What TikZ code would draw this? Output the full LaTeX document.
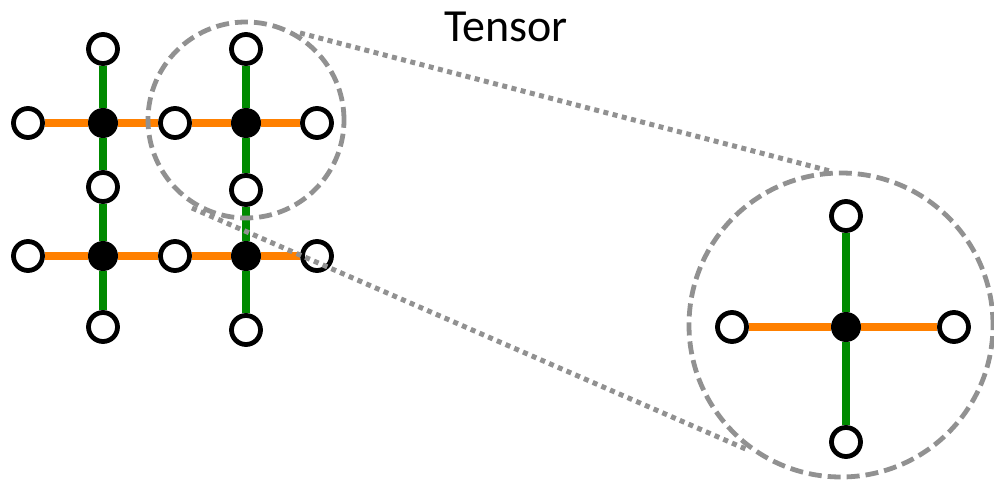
\documentclass[tikz,border=0pt]{standalone}
\usepackage{fontspec}
\setmainfont{Carlito}
\usetikzlibrary{backgrounds}
\definecolor{bondorange}{RGB}{255,128,0}
\definecolor{bondgreen}{RGB}{0,138,0}
\definecolor{lensgray}{RGB}{145,145,145}
\begin{document}
\begin{tikzpicture}[x=1pt,y=-1pt,
  site/.style={circle,fill=black,inner sep=0pt,minimum size=30pt},
  leg/.style={circle,draw=black,fill=white,line width=4.8pt,inner sep=0pt,minimum size=29pt},
  hbond/.style={draw=bondorange,line width=7.5pt},
  vbond/.style={draw=bondgreen,line width=7.5pt},
  lens/.style={circle,draw=lensgray,line width=4.8pt,dash pattern=on 13pt off 6pt,inner sep=0pt},
  ray/.style={draw=lensgray,line width=5pt,dash pattern=on 5pt off 4.5pt}]
\useasboundingbox (0,0) rectangle (994,481);

% ---- 2x2 lattice of tensors ----
\node[site] (s11) at (103,123) {};
\node[site] (s12) at (246,123) {};
\node[site] (s21) at (103,256) {};
\node[site] (s22) at (246,256) {};

\node[leg] (t1) at (103,49) {};
\node[leg] (t2) at (246,49) {};
\node[leg] (l1) at (28,123) {};
\node[leg] (m1) at (175,123) {};
\node[leg] (r1) at (317,123) {};
\node[leg] (c1) at (103,187) {};
\node[leg] (c2) at (246,190) {};
\node[leg] (l2) at (28,256) {};
\node[leg] (m2) at (175,256) {};
\node[leg] (r2) at (317,256) {};
\node[leg] (b1) at (103,327) {};
\node[leg] (b2) at (246,330) {};

% ---- single tensor, enlarged ----
\node[site] (S) at (846,327) {};
\node[leg] (T) at (846,216) {};
\node[leg] (L) at (732,327) {};
\node[leg] (R) at (954,327) {};
\node[leg] (B) at (846,442) {};

\begin{pgfonlayer}{background}
  \draw[hbond] (l1) -- (s11) -- (m1) -- (s12) -- (r1);
  \draw[hbond] (l2) -- (s21) -- (m2) -- (s22) -- (r2);
  \draw[vbond] (t1) -- (s11) -- (c1) -- (s21) -- (b1);
  \draw[vbond] (t2) -- (s12) -- (c2) -- (s22) -- (b2);
  \draw[hbond] (L) -- (S) -- (R);
  \draw[vbond] (T) -- (S) -- (B);
\end{pgfonlayer}

% ---- magnifier ----
\node[lens,minimum size=196pt] (zoomA) at (246,120) {};
\node[lens,minimum size=304pt] (zoomB) at (841,325) {};
\coordinate (ua) at (300,33);
\coordinate (ub) at (830,171);
\coordinate (la) at (192,208);
\coordinate (lb) at (748,450);
\draw[ray] (ua) -- (ub);
\draw[ray] (la) -- (lb);

\node[anchor=base,font=\fontsize{46}{50}\selectfont,inner sep=0pt] (title) at (506,42) {Tensor};
\end{tikzpicture}
\end{document}
